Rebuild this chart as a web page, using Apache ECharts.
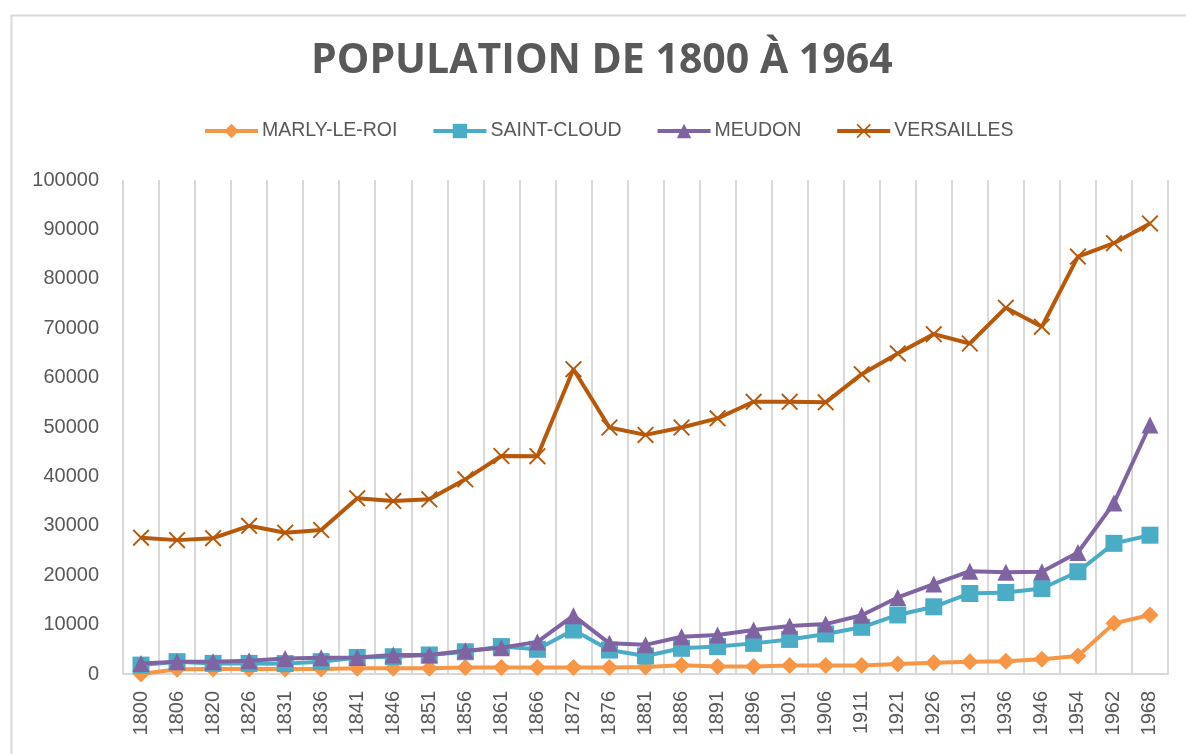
<!DOCTYPE html>
<html>
<head>
<meta charset="utf-8">
<script src="https://cdn.jsdelivr.net/npm/echarts@6/dist/echarts.min.js"></script>
<style>
html,body{margin:0;padding:0;background:#fff;}
#chart{width:1186px;height:754px;}
</style>
</head>
<body>
<div id="chart"></div>
<script>
const titleText = 'POPULATION DE 1800 À 1964';
const years = ['1800','1806','1820','1826','1831','1836','1841','1846','1851','1856','1861','1866','1872','1876','1881','1886','1891','1896','1901','1906','1911','1921','1926','1931','1936','1946','1954','1962','1968'];
const seriesNames = ['MARLY-LE-ROI','SAINT-CLOUD','MEUDON','VERSAILLES'];
const marly = [0,950,1000,1000,1000,1000,1150,1150,1150,1300,1300,1300,1300,1300,1400,1750,1500,1500,1700,1700,1700,2000,2300,2500,2600,3000,3650,10250,11950];
const saintCloud = [1800,2500,2150,2150,2100,2500,3350,3500,3850,4500,5550,5000,8900,4850,3650,5200,5550,6200,7000,8100,9450,11950,13600,16300,16500,17300,20700,26450,28100];
const meudon = [2150,2500,2500,2700,3150,3300,3350,3850,3850,4700,5300,6500,11800,6200,5900,7550,7900,8900,9700,10100,11900,15500,18200,20800,20600,20700,24600,34600,50400];
const versailles = [27600,27100,27500,30000,28600,29150,35560,35000,35360,39400,44130,44100,61700,49900,48400,49900,51750,55100,55100,55000,60700,64900,68800,66900,74150,70300,84500,87200,91200];

const colors = ['#F79646','#4BACC6','#8064A2','#B8580A'];
const xSymbol = 'path://M0,1.6L1.6,0L10,8.4L18.4,0L20,1.6L11.6,10L20,18.4L18.4,20L10,11.6L1.6,20L0,18.4L8.4,10Z';
const symbols = ['diamond','rect','triangle',xSymbol];
const sizes = [17,17,17,17];
const datas = [marly, saintCloud, meudon, versailles];

const chart = echarts.init(document.getElementById('chart'), null, {renderer:'canvas'});
const txt = '#595959';
chart.setOption({
  backgroundColor:'#fff',
  animation:false,
  graphic:[{
    type:'rect', left:9, top:13, silent:true,
    shape:{x:0,y:0,width:1200,height:800},
    style:{fill:'none', stroke:'#d9d9d9', lineWidth:2}
  }],
  title:{
    text:titleText, left:306, top:36,
    textStyle:{fontFamily:'Open Sans', fontWeight:'bold', fontSize:41, color:txt}
  },
  legend:{
    left:198, top:116,
    itemWidth:53, itemHeight:18, itemGap:34,
    lineStyle:{width:4},
    textStyle:{fontFamily:'Liberation Sans', fontSize:19.5, color:txt, padding:[0,0,0,-1]},
    data:seriesNames
  },
  grid:{left:123, right:18, top:180, bottom:80, containLabel:false},
  xAxis:{
    type:'category', data:years, boundaryGap:true,
    axisLine:{show:true, lineStyle:{color:'#d9d9d9', width:2}},
    axisTick:{show:false},
    splitLine:{show:true, lineStyle:{color:'#d9d9d9', width:2}},
    axisLabel:{rotate:90, margin:17, fontFamily:'Liberation Sans', fontSize:20, color:txt, interval:0}
  },
  yAxis:{
    type:'value', min:0, max:100000, interval:10000,
    axisLine:{show:false}, axisTick:{show:false},
    splitLine:{show:false},
    axisLabel:{margin:24, fontFamily:'Liberation Sans', fontSize:20, color:txt, formatter:(v)=>String(v)}
  },
  series: datas.map((d,i)=>({
    name:seriesNames[i], type:'line', data:d,
    symbol:symbols[i], symbolSize:sizes[i], showAllSymbol:true,
    lineStyle:{color:colors[i], width:4},
    itemStyle:{color:colors[i], borderColor:colors[i], borderWidth:0},
    z: 2+i
  }))
});
</script>
</body>
</html>
